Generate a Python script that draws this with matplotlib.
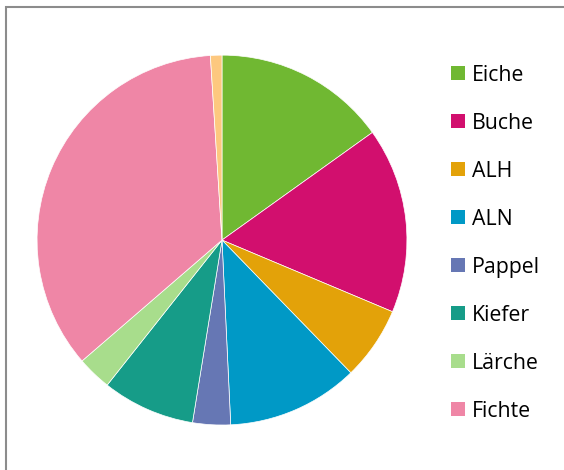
import matplotlib
matplotlib.use("Agg")
import matplotlib.pyplot as plt
from matplotlib.patches import Patch, Rectangle

labels = ["Eiche", "Buche", "ALH", "ALN", "Pappel", "Kiefer", "Lärche", "Fichte", ""]
shares = [15.1, 16.2, 6.4, 11.5, 3.3, 8.1, 3.0, 35.3, 1.0]
colors = ["#70B832", "#D20F6E", "#E3A209", "#0099C6", "#6677B4",
          "#169C88", "#A8DD8C", "#EF86A6", "#FDC87F"]

plt.rcParams["font.family"] = ["Open Sans", "DejaVu Sans"]

fig = plt.figure(figsize=(5.64, 4.70), dpi=100)
# chart frame, running off the right and bottom edges
fig.patches.append(Rectangle((6 / 564, -0.05), 1.0, 1 - 7 / 470 + 0.05,
                             transform=fig.transFigure, fill=False,
                             edgecolor="#8c8c8c", linewidth=1.5))

ax = fig.add_axes([0.0656, 0.0957, 0.656, 0.787])
ax.pie(shares, colors=colors, startangle=90, counterclock=False, radius=1.0,
       wedgeprops={"edgecolor": "white", "linewidth": 0.5})
ax.set_xlim(-1, 1)
ax.set_ylim(-1, 1)
ax.set_aspect("equal")
ax.axis("off")

handles = [Patch(facecolor=c, edgecolor="none") for c in colors[:8]]
fig.legend(handles, labels[:8], loc="upper left", bbox_to_anchor=(440 / 564, 1 - 54 / 470),
           frameon=False, fontsize=15.3, handlelength=0.68, handleheight=0.68,
           handletextpad=0.32, labelspacing=1.27, borderpad=0)

fig.savefig("out.png", dpi=100)
